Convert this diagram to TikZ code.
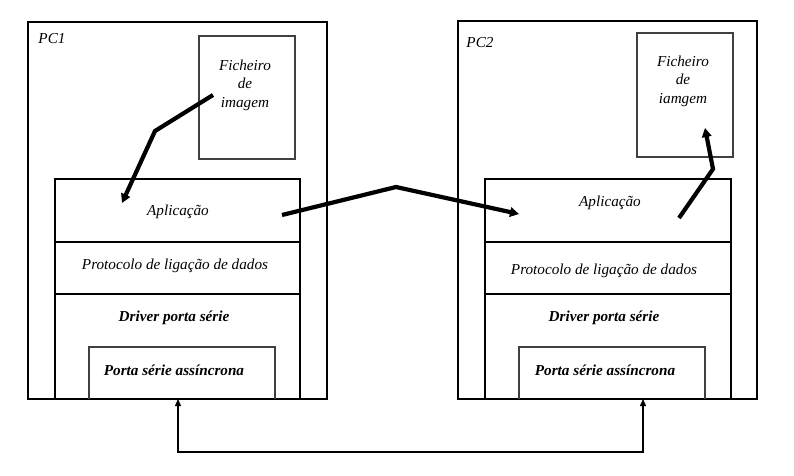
\documentclass[tikz,border=0pt]{standalone}
\usepackage{fontspec}
\setmainfont{Liberation Serif}
\usetikzlibrary{arrows.meta}
\begin{document}
\begin{tikzpicture}[x=1pt,y=-1pt,
  pcbox/.style={draw=black,line width=1.4pt},
  filebox/.style={draw=black!75,line width=1.2pt},
  layer/.style={draw=black,line width=1.6pt},
  portbox/.style={draw=black!75,line width=1.4pt},
  lbl/.style={font=\fontsize{15.2}{18.5}\selectfont\itshape,inner sep=0pt},
  blbl/.style={font=\fontsize{15.2}{18.5}\selectfont\bfseries\itshape,inner sep=0pt},
  flow/.style={line width=4.2pt,-{Triangle[length=9pt,width=9.5pt]}},
  serial/.style={line width=1.3pt,{Triangle[length=7pt,width=6pt]}-{Triangle[length=7pt,width=6pt]}}]
\useasboundingbox (0,0) rectangle (794,475);
\fill[white] (0,0) rectangle (794,475);
% PC1
\draw[pcbox] (28,22) rectangle (327,399);
\node[lbl] (pc1) at (52,39) {PC1};
\draw[filebox] (199,36) rectangle (295,159);
\node[lbl,align=center] (file1) at (245,85) {Ficheiro\\de\\imagem};
\draw[layer] (55,179) rectangle (300,242);
\draw[layer] (55,242) rectangle (300,294);
\draw[layer] (55,294) -- (55,399) (300,294) -- (300,399);
\draw[portbox] (89,399) -- (89,347) -- (275,347) -- (275,399);
\node[lbl] (app1) at (178,212) {Aplicação};
\node[lbl] (prot1) at (175,266) {Protocolo de ligação de dados};
\node[blbl] (drv1) at (174,318) {Driver porta série};
\node[blbl] (port1) at (174,370) {Porta série assíncrona};
% PC2
\draw[pcbox] (458,21) rectangle (757,399);
\node[lbl] (pc2) at (480,43) {PC2};
\draw[filebox] (637,33) rectangle (733,157);
\node[lbl,align=center] (file2) at (683,81) {Ficheiro\\de\\iamgem};
\draw[layer] (485,179) rectangle (731,242);
\draw[layer] (485,242) rectangle (731,294);
\draw[layer] (485,294) -- (485,399) (731,294) -- (731,399);
\draw[portbox] (519,399) -- (519,347) -- (705,347) -- (705,399);
\node[lbl] (app2) at (610,203) {Aplicação};
\node[lbl] (prot2) at (604,271) {Protocolo de ligação de dados};
\node[blbl] (drv2) at (604,318) {Driver porta série};
\node[blbl] (port2) at (605,370) {Porta série assíncrona};
% flow arrows
\coordinate (a1s) at (213,95);
\coordinate (a1b) at (155,131);
\coordinate (a1e) at (122,203);
\draw[flow] (a1s) -- (a1b) -- (a1e);
\coordinate (a2s) at (282,215);
\coordinate (a2b) at (396,187);
\coordinate (a2e) at (519,214);
\draw[flow] (a2s) -- (a2b) -- (a2e);
\coordinate (a3s) at (679,218);
\coordinate (a3b) at (713,169);
\coordinate (a3e) at (705,128);
\draw[flow] (a3s) -- (a3b) -- (a3e);
% serial link
\coordinate (s1) at (178,399);
\coordinate (s2) at (643,399);
\draw[serial] (s1) -- (178,452) -- (643,452) -- (s2);
\end{tikzpicture}
\end{document}
